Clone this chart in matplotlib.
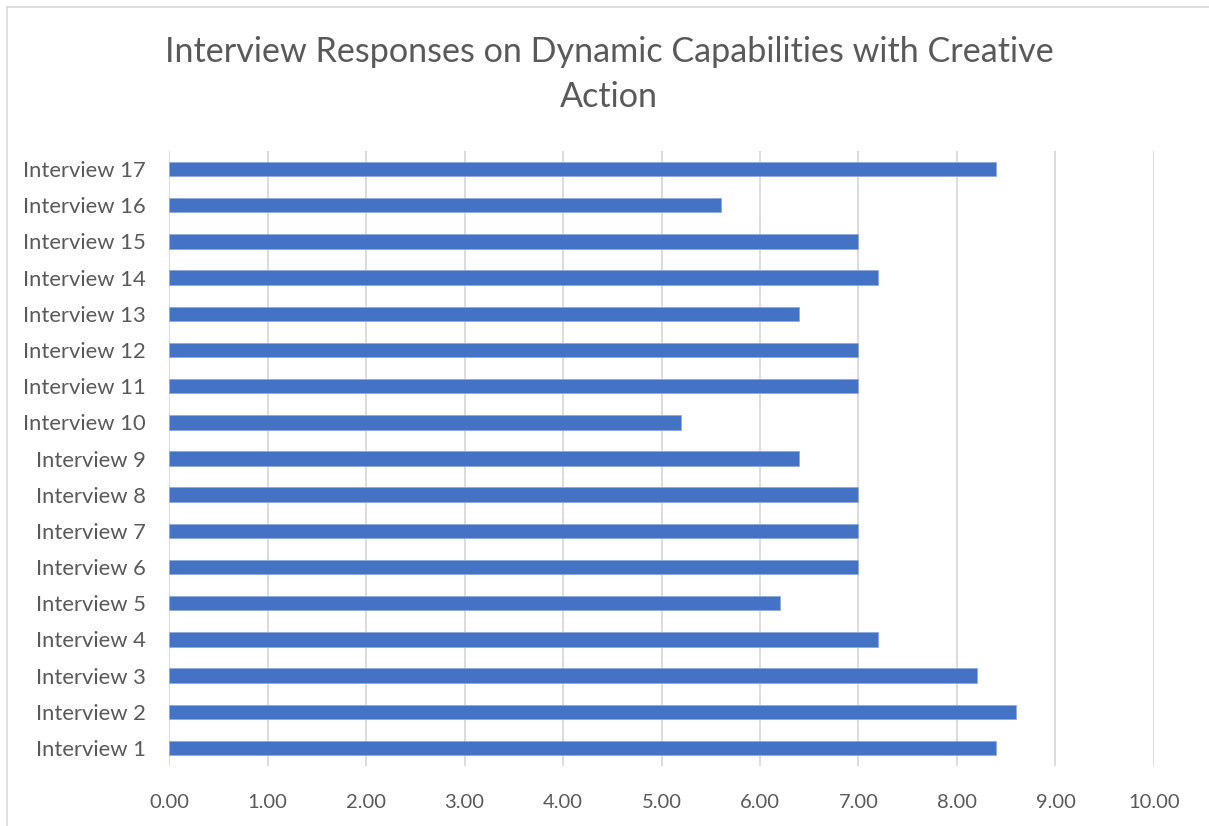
import matplotlib
matplotlib.use('Agg')
import matplotlib.pyplot as plt
from matplotlib.lines import Line2D

# interview scores, bottom to top
labels = [f'Interview {i}' for i in range(1, 18)]
scores = [8.4, 8.6, 8.2, 7.2, 6.2, 7.0, 7.0, 7.0, 6.4,
          5.2, 7.0, 7.0, 6.4, 7.2, 7.0, 5.6, 8.4]
x_ticks = [0, 1, 2, 3, 4, 5, 6, 7, 8, 9, 10]

title = 'Interview Responses on Dynamic Capabilities with Creative\nAction'

text_color = '#595959'
grid_color = '#D9D9D9'
bar_color = '#4472C4'

plt.rcParams['font.family'] = ['Lato', 'DejaVu Sans']

fig = plt.figure(figsize=(12.09, 8.26), dpi=100)
ax = fig.add_axes([0.1398, 0.0726, 0.8147, 0.7446])

ypos = list(range(len(labels)))
ax.barh(ypos, scores, height=0.4, color=bar_color, edgecolor='#8FAADC',
        linewidth=0.6, zorder=3)

ax.set_xlim(0, 10)
ax.set_ylim(-0.5, len(labels) - 0.5)
ax.set_xticks(x_ticks)
ax.set_xticklabels([f'{v:.2f}' for v in x_ticks])
ax.set_yticks(ypos)
ax.set_yticklabels(labels)

ax.grid(axis='x', color=grid_color, linewidth=1.3, zorder=0)
ax.tick_params(axis='both', length=0, colors=text_color)
ax.tick_params(axis='x', pad=20, labelsize=14.5)
ax.tick_params(axis='y', pad=16.5, labelsize=15.8)
for s in ax.spines.values():
    s.set_visible(False)

fig.text(0.504, 0.910, title, ha='center', va='center', fontsize=24.6,
         color=text_color, linespacing=1.5)

# chart frame
fig.add_artist(Line2D([7 / 1209, 7 / 1209], [0, 1 - 7 / 826],
                      transform=fig.transFigure, color=grid_color, lw=1.2))
fig.add_artist(Line2D([7 / 1209, 1], [1 - 7 / 826, 1 - 7 / 826],
                      transform=fig.transFigure, color=grid_color, lw=1.2))

fig.savefig('out.png', dpi=100)
